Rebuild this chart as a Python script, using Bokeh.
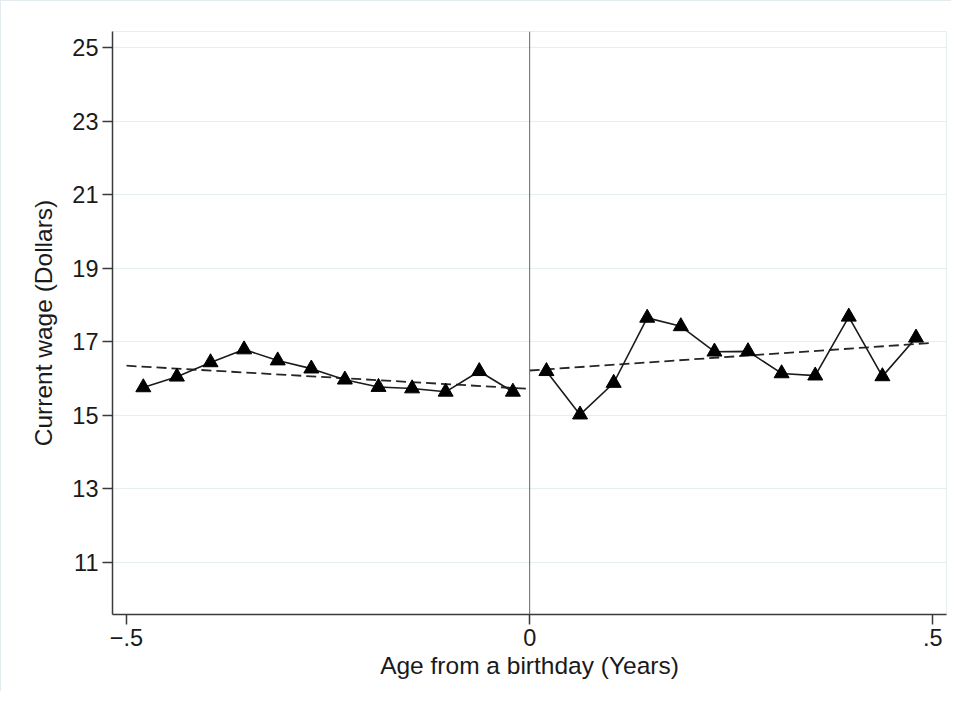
from bokeh.plotting import figure
from bokeh.models import Range1d, Span, FixedTicker
from bokeh.embed import file_html
from bokeh.resources import INLINE

# ---- data ----
left_age = [-0.4792, -0.4375, -0.3958, -0.3542, -0.3125, -0.2708,
            -0.2292, -0.1875, -0.1458, -0.1042, -0.0625, -0.0208]
left_wage = [15.76, 16.05, 16.44, 16.79, 16.49, 16.27,
             15.97, 15.77, 15.73, 15.64, 16.20, 15.64]
right_age = [0.0208, 0.0625, 0.1042, 0.1458, 0.1875, 0.2292,
             0.2708, 0.3125, 0.3542, 0.3958, 0.4375, 0.4792]
right_wage = [16.20, 15.02, 15.88, 17.65, 17.42, 16.73,
              16.74, 16.14, 16.08, 17.68, 16.06, 17.11]
left_fit_age = [-0.5, 0.0]
left_fit_wage = [16.35, 15.72]
right_fit_age = [0.0, 0.5]
right_fit_wage = [16.22, 16.97]

y_ticks = [11, 13, 15, 17, 19, 21, 23, 25]
x_ticks = [-0.5, 0, 0.5]
x_tick_labels = {-0.5: "\u2212.5", 0: "0", 0.5: ".5"}

FONT = "Liberation Sans"
TXT = "#1a1a1a"
GRID = "#e6eef0"

p = figure(width=951, height=691, output_backend="svg", toolbar_location=None,
           x_range=Range1d(-0.5174, 0.517), y_range=Range1d(9.587, 25.435),
           min_border_left=111, min_border_right=6, min_border_top=30,
           min_border_bottom=78,
           styles={"border-top": "1px solid #e3ebee", "border-left": "1px solid #e3ebee"})

p.background_fill_color = "white"
p.border_fill_color = "white"
p.outline_line_color = GRID
p.outline_line_width = 1

p.xgrid.grid_line_color = None
p.ygrid.grid_line_color = GRID
p.ygrid.grid_line_width = 1

p.yaxis.ticker = FixedTicker(ticks=y_ticks)
p.xaxis.ticker = FixedTicker(ticks=x_ticks)
p.xaxis.major_label_overrides = x_tick_labels

for ax in (p.xaxis[0], p.yaxis[0]):
    ax.axis_line_color = "#3a3a3a"
    ax.axis_line_width = 1.5
    ax.major_tick_line_color = "#3a3a3a"
    ax.major_tick_line_width = 1.5
    ax.major_tick_out = 10
    ax.major_tick_in = 0
    ax.minor_tick_line_color = None
    ax.major_label_text_font = FONT
    ax.major_label_text_font_size = "23.5px"
    ax.major_label_text_color = TXT
    ax.axis_label_text_font = FONT
    ax.axis_label_text_font_size = "24.5px"
    ax.axis_label_text_font_style = "normal"
    ax.axis_label_text_color = TXT

p.xaxis.axis_label = "Age from a birthday (Years)"
p.yaxis.axis_label = "Current wage (Dollars)"
p.xaxis.major_label_standoff = 4
p.xaxis.axis_label_standoff = 3
p.yaxis.major_label_standoff = 4
p.yaxis.axis_label_standoff = 12
p.yaxis.major_label_orientation = "horizontal"

p.add_layout(Span(location=0, dimension="height", line_color="#666666", line_width=1))

# fitted dashed lines
p.line(left_fit_age, left_fit_wage, line_color="#262626", line_width=1.8, line_dash="10 5")
p.line(right_fit_age, right_fit_wage, line_color="#262626", line_width=1.8, line_dash="10 5")

# binned means
p.line(left_age, left_wage, line_color="#1a1a1a", line_width=1.6)
p.line(right_age, right_wage, line_color="#1a1a1a", line_width=1.6)
p.scatter(left_age, left_wage, marker="triangle", size=15, fill_color="black", line_color="black")
p.scatter(right_age, right_wage, marker="triangle", size=15, fill_color="black", line_color="black")

open("out.html", "w").write(file_html(p, INLINE))
